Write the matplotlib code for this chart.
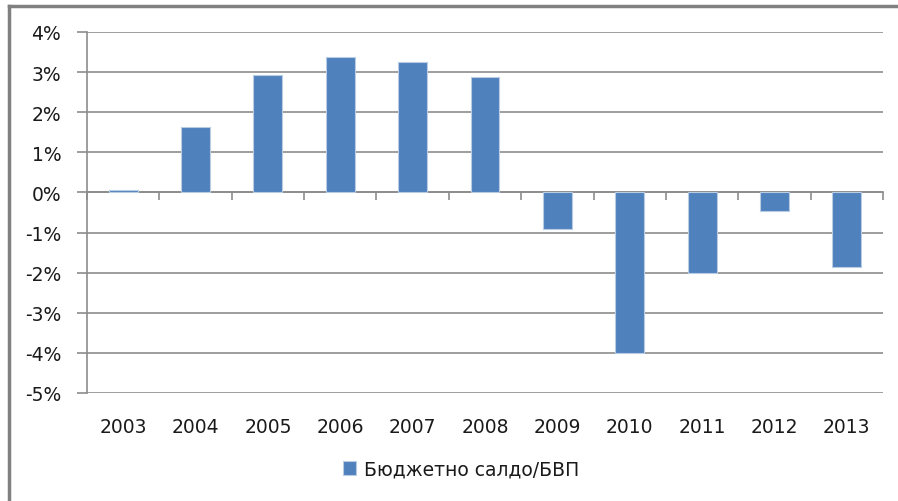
import matplotlib
matplotlib.use("Agg")
import matplotlib.pyplot as plt
from matplotlib.lines import Line2D
from matplotlib.patches import Patch
from matplotlib.ticker import FuncFormatter
import numpy as np

years = ["2003", "2004", "2005", "2006", "2007", "2008", "2009", "2010", "2011", "2012", "2013"]
balance = [0.06, 1.64, 2.92, 3.37, 3.26, 2.87, -0.92, -4.0, -2.0, -0.47, -1.86]
series_name = "Бюджетно салдо/БВП"
y_ticks = [-5, -4, -3, -2, -1, 0, 1, 2, 3, 4]

plt.rcParams['font.family'] = ['DejaVu Sans']

W, H = 898, 502
fig = plt.figure(figsize=(W / 100, H / 100), dpi=100)
ax = fig.add_axes([87 / W, 1 - 394 / H, (883 - 87) / W, (394 - 33) / H])

grid_c = "#8c8c8c"
bar_c = "#4f81bd"
txt_c = "#1a1a1a"
fs = 13.5

x = np.arange(len(years))
ax.bar(x, balance, width=0.4, color=bar_c, edgecolor="#b8cce4", linewidth=0.8, zorder=5)

ax.set_xlim(-0.5, len(years) - 0.5)
ax.set_ylim(-5, 4)
ax.set_yticks(y_ticks)
ax.yaxis.set_major_formatter(FuncFormatter(lambda v, p: f"{int(round(v))}%"))
ax.yaxis.grid(True, color=grid_c, linewidth=1.2, zorder=0)
ax.tick_params(axis='y', length=7, width=1.2, color=grid_c, pad=11.5, labelsize=fs, labelcolor=txt_c)

ax.set_xticks(x)
ax.set_xticklabels(years)
ax.tick_params(axis='x', length=0, pad=17, labelsize=fs, labelcolor=txt_c)

for s in ["top", "right", "bottom"]:
    ax.spines[s].set_visible(False)
ax.spines["left"].set_color(grid_c)
ax.spines["left"].set_linewidth(1.2)

# category axis crossing at 0
sec = ax.secondary_xaxis(5 / 9)
sec.set_xticks(np.arange(len(years) + 1) - 0.5)
sec.set_xticklabels([])
sec.tick_params(axis='x', direction='in', length=6, width=1.2, color=grid_c)
for s in sec.spines.values():
    s.set_color(grid_c)
    s.set_linewidth(1.2)

handle = Patch(facecolor=bar_c, edgecolor="#b8cce4", linewidth=0.8)
fig.legend([handle], [series_name], loc="center", bbox_to_anchor=(461 / W, 1 - 470 / H),
           frameon=False, fontsize=fs, handlelength=0.7, handleheight=0.7,
           handletextpad=0.4, labelcolor=txt_c)

# chart frame
fig.add_artist(Line2D([9 / W, 9 / W], [0, 1 - 7 / H], color="#808080", linewidth=2.5,
                      transform=fig.transFigure))
fig.add_artist(Line2D([9 / W, 1], [1 - 7 / H, 1 - 7 / H], color="#808080", linewidth=2.5,
                      transform=fig.transFigure))

fig.savefig("out.png", dpi=100, facecolor="white")
